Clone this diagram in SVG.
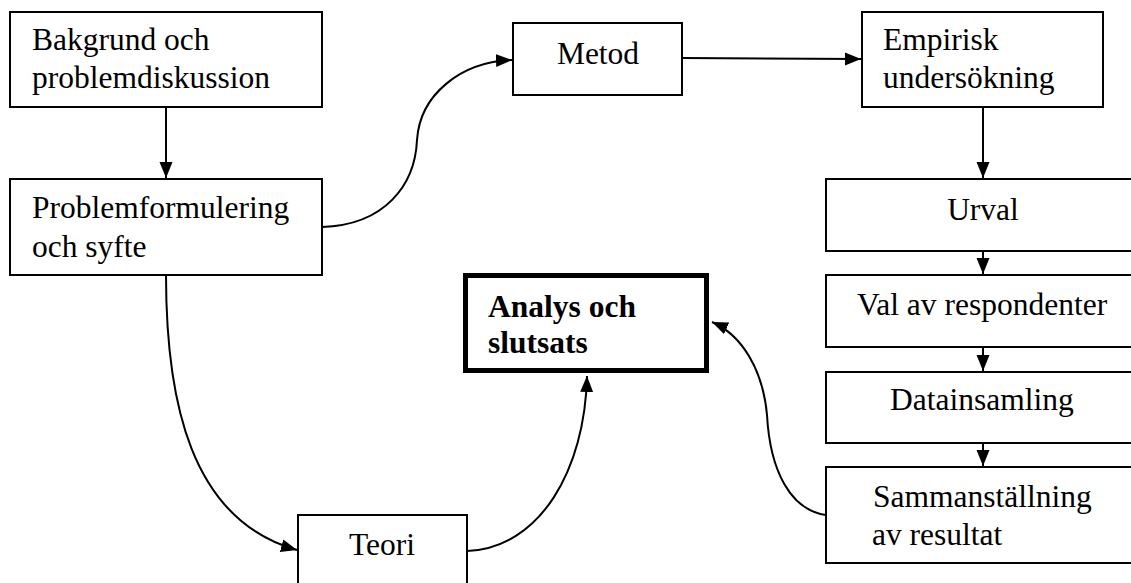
<svg xmlns="http://www.w3.org/2000/svg" width="1131" height="583" viewBox="0 0 1131 583">
<style>
.box{fill:#fff;stroke:#000;stroke-width:2}
.thick{fill:#fff;stroke:#000;stroke-width:5}
text{font-family:'Liberation Serif','Times New Roman',serif;font-size:31.5px;fill:#000}
.b{font-weight:bold}
.c{text-anchor:middle}
.edge{fill:none;stroke:#000;stroke-width:2}
</style>
<defs>
<marker id="ah" markerUnits="userSpaceOnUse" markerWidth="16" markerHeight="14" viewBox="0 0 16 14" refX="16" refY="7" orient="auto">
<path d="M0,0.5 L16,7 L0,13.5 Z" fill="#000"/>
</marker>
</defs>
<rect width="1131" height="583" fill="#fff"/>
<g id="connectors">
<path class="edge" d="M166,107 L166,178" marker-end="url(#ah)"/>
<path class="edge" d="M322,227 C385,225 415,185 417,140 C420,95 460,62 512,60" marker-end="url(#ah)"/>
<path class="edge" d="M682,58 L861,59" marker-end="url(#ah)"/>
<path class="edge" d="M983,107 L983,178" marker-end="url(#ah)"/>
<path class="edge" d="M983,251 L983,274" marker-end="url(#ah)"/>
<path class="edge" d="M983,347 L983,371" marker-end="url(#ah)"/>
<path class="edge" d="M983,443 L983,466" marker-end="url(#ah)"/>
<path class="edge" d="M166,275 C166,400 190,520 297,550" marker-end="url(#ah)"/>
<path class="edge" d="M467,551 C540,548 585,470 587,376" marker-end="url(#ah)"/>
<path class="edge" d="M826,515 C790,510 770,470 767,415 C763,370 742,335 712,322" marker-end="url(#ah)"/>
</g>
<g id="bakgrund">
<rect class="box" x="10" y="12" width="312" height="95"/>
<text x="32" y="50">Bakgrund och</text>
<text x="32" y="88">problemdiskussion</text>
</g>
<g id="problemformulering">
<rect class="box" x="10" y="179" width="312" height="96"/>
<text x="32" y="218">Problemformulering</text>
<text x="32" y="257">och syfte</text>
</g>
<g id="metod">
<rect class="box" x="513" y="23" width="169" height="72"/>
<text class="c" x="598" y="64">Metod</text>
</g>
<g id="empirisk">
<rect class="box" x="862" y="12" width="241" height="95"/>
<text x="883" y="50">Empirisk</text>
<text x="883" y="88">undersökning</text>
</g>
<g id="urval">
<rect class="box" x="826" y="179" width="320" height="72"/>
<text class="c" x="983" y="220">Urval</text>
</g>
<g id="val">
<rect class="box" x="826" y="275" width="320" height="72"/>
<text x="857" y="315">Val av respondenter</text>
</g>
<g id="datainsamling">
<rect class="box" x="826" y="372" width="320" height="71"/>
<text x="890" y="410">Datainsamling</text>
</g>
<g id="sammanstallning">
<rect class="box" x="826" y="467" width="320" height="96"/>
<text x="873" y="507">Sammanställning</text>
<text x="872" y="545">av resultat</text>
</g>
<g id="analys">
<rect class="thick" x="465.5" y="275.5" width="241" height="95"/>
<text class="b" x="488" y="317">Analys och</text>
<text class="b" x="488" y="353">slutsats</text>
</g>
<g id="teori">
<rect class="box" x="298" y="515" width="169" height="80"/>
<text class="c" x="382" y="555">Teori</text>
</g>
</svg>
